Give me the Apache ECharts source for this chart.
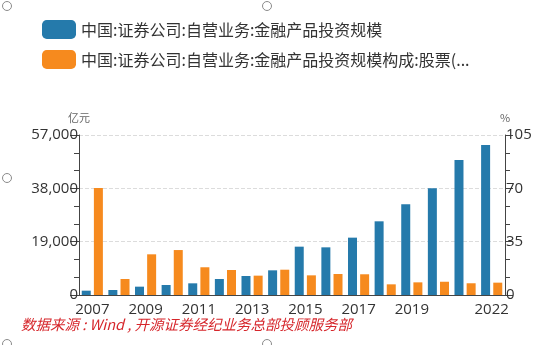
<!DOCTYPE html>
<html>
<head>
<meta charset="utf-8">
<script src="https://cdn.jsdelivr.net/npm/echarts@6/dist/echarts.min.js"></script>
<style>
  html, body { margin: 0; padding: 0; background: #fff; }
  #chart { width: 550px; height: 345px; }
</style>
</head>
<body>
<div id="chart"></div>
<script>
// Years on the category axis
const years = ['2007', '2008', '2009', '2010', '2011', '2012', '2013', '2014',
               '2015', '2016', '2017', '2018', '2019', '2020', '2021', '2022'];

// 金融产品投资规模 (亿元)
const investScale = [1540, 1780, 2970, 3560, 4160, 5700, 6770, 8790,
                     17220, 16980, 20430, 26250, 32300, 38000, 48090, 53440];

// 股票占比 (%)
const stockShare = [70.3, 10.5, 26.7, 29.5, 18.2, 16.4, 12.7, 16.6,
                    12.9, 13.8, 13.6, 7.0, 8.3, 8.7, 7.7, 8.1];

const seriesNames = [
  '中国:证券公司:自营业务:金融产品投资规模',
  '中国:证券公司:自营业务:金融产品投资规模构成:股票(...'
];

const leftTicks = { min: 0, max: 57000, interval: 19000 };
const rightTicks = { min: 0, max: 105, interval: 35 };

const sourceNote = '数据来源 : Wind , 开源证券经纪业务总部投顾服务部';

const FONT = '"Noto Sans CJK SC", "Noto Sans", sans-serif';
const NUM_FONT = '"Open Sans", "Noto Sans", sans-serif';
const chart = echarts.init(document.getElementById('chart'), null, { renderer: 'canvas' });

// years shown under the axis
const showYear = (i) => (i % 2 === 0 && i < 14) || i === years.length - 1;

const axisLineStyle = { color: '#444', width: 1 };

const handle = (x, y) => ({
  type: 'circle',
  shape: { cx: x, cy: y, r: 4.5 },
  style: { fill: '#fff', stroke: '#8a8a8a', lineWidth: 1 },
  silent: true
});

chart.setOption({
  animation: false,
  textStyle: { fontFamily: FONT },
  legend: {
    orient: 'vertical',
    left: 37,
    top: 15,
    itemWidth: 34,
    itemHeight: 19,
    itemGap: 11,
    icon: 'roundRect',
    textStyle: { fontSize: 16, color: '#333', fontFamily: FONT },
    data: seriesNames
  },
  grid: { left: 79, right: 45, top: 135, bottom: 50, containLabel: false },
  xAxis: {
    type: 'category',
    data: years,
    boundaryGap: true,
    axisLine: { lineStyle: axisLineStyle },
    axisTick: { alignWithLabel: true, interval: 0, length: 8, lineStyle: axisLineStyle },
    axisLabel: { interval: (i) => showYear(i), fontSize: 15, color: '#333', margin: 7, fontFamily: NUM_FONT },
    splitLine: { show: false }
  },
  yAxis: [
    {
      type: 'value',
      position: 'left',
      min: leftTicks.min, max: leftTicks.max, interval: leftTicks.interval,
      name: '亿元',
      nameLocation: 'end',
      nameGap: 12,
      nameTextStyle: { fontSize: 11, color: '#666', align: 'center', fontFamily: FONT },
      axisLine: { show: true, lineStyle: axisLineStyle },
      axisTick: { show: true, length: 9, lineStyle: axisLineStyle },
      minorTick: { show: true, splitNumber: 3, length: 5, lineStyle: { color: '#444' } },
      axisLabel: { fontSize: 15, color: '#333', margin: 1, fontFamily: NUM_FONT,
                   formatter: (v) => v.toLocaleString('en-US') },
      splitLine: { show: true, lineStyle: { type: 'dashed', color: '#dcdcdc' } }
    },
    {
      type: 'value',
      position: 'right',
      min: rightTicks.min, max: rightTicks.max, interval: rightTicks.interval,
      name: '%',
      nameLocation: 'end',
      nameGap: 12,
      nameTextStyle: { fontSize: 11, color: '#666', align: 'center', fontFamily: FONT },
      axisLine: { show: true, lineStyle: axisLineStyle },
      axisTick: { show: true, length: 8, lineStyle: axisLineStyle },
      minorTick: { show: true, splitNumber: 3, length: 5, lineStyle: { color: '#444' } },
      axisLabel: { fontSize: 15, color: '#333', margin: 1, fontFamily: NUM_FONT },
      splitLine: { show: false }
    }
  ],
  series: [
    {
      name: seriesNames[0],
      type: 'bar',
      yAxisIndex: 0,
      data: investScale,
      barWidth: 9,
      barGap: '35%',
      itemStyle: { color: '#257aab' }
    },
    {
      name: seriesNames[1],
      type: 'bar',
      yAxisIndex: 1,
      data: stockShare,
      barWidth: 9,
      barGap: '35%',
      itemStyle: { color: '#f68a1e' }
    }
  ],
  graphic: [
    {
      type: 'text',
      left: 21,
      top: 317,
      style: {
        text: sourceNote,
        fontSize: 14.5,
        fontStyle: 'italic',
        fill: '#d6262b',
        fontFamily: FONT
      },
      silent: true
    },
    handle(7, 6),
    handle(267, 6),
    handle(7, 178),
    handle(7, 344),
    handle(267, 344)
  ]
});
</script>
</body>
</html>
